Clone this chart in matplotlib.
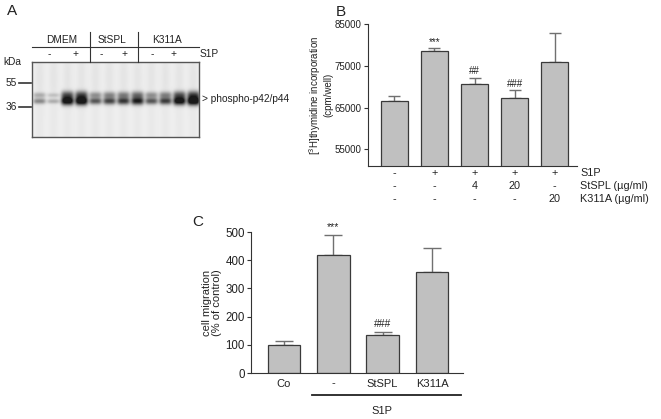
import matplotlib.pyplot as plt
import numpy as np
from matplotlib.lines import Line2D

plt.rcParams['font.family'] = ['Liberation Sans', 'DejaVu Sans']
plt.rcParams['font.size'] = 7

W, H = 661, 419

# panel B: [3H]thymidine incorporation
b_vals = [66500, 78600, 70700, 67300, 75900]
b_err = [1200, 600, 1450, 1950, 6850]
b_marks = ['', '***', '##', '###', '']
b_s1p = ['-', '+', '+', '+', '+']
b_stspl = ['-', '-', '4', '20', '-']
b_k311a = ['-', '-', '-', '-', '20']
b_rows = ['S1P', 'StSPL (\u00b5g/ml)', 'K311A (\u00b5g/ml)']

# panel C: cell migration
c_labels = ['Co', '-', 'StSPL', 'K311A']
c_vals = [100, 420, 133, 357]
c_err = [12, 70, 12, 85]
c_marks = ['', '***', '###', '']

# panel A: blot, relative band intensity per lane (2 lanes per condition)
lane_int = [0.45, 0.3, 0.92, 0.95, 0.62, 0.68, 0.72, 0.8, 0.62, 0.7, 0.9, 0.97]
blot_groups = ['DMEM', 'StSPL', 'K311A']
blot_s1p = ['-', '+', '-', '+', '-', '+']

bar_face = '#c0c0c0'
edge = '#3a3a3a'
err_col = '#707070'
txt = '#222222'


def fx(x):
    return x / W


def fy(y):
    return 1 - y / H


def axes_px(l, t, r, b):
    return fig.add_axes([fx(l), fy(b), (r - l) / W, (b - t) / H])


def hline(x0, x1, y, lw=1.0, c='#333333'):
    fig.add_artist(Line2D([fx(x0), fx(x1)], [fy(y), fy(y)], lw=lw, color=c))


def vline(x, y0, y1, lw=1.0, c='#333333'):
    fig.add_artist(Line2D([fx(x), fx(x)], [fy(y0), fy(y1)], lw=lw, color=c))


def ftext(x, y, s, **kw):
    kw.setdefault('ha', 'center')
    kw.setdefault('va', 'center')
    kw.setdefault('color', txt)
    fig.text(fx(x), fy(y), s, **kw)


def style(ax, size):
    for side in ['top', 'right']:
        ax.spines[side].set_visible(False)
    for side in ['left', 'bottom']:
        ax.spines[side].set_color('#333333')
        ax.spines[side].set_linewidth(0.8)
    ax.tick_params(axis='y', length=3, width=0.8, color='#333333', pad=1.5,
                   labelcolor=txt, labelsize=size)


fig = plt.figure(figsize=(W / 100, H / 100), dpi=100)

# ---------------- panel A ----------------
ftext(12, 11, 'A', fontsize=11)
axA = axes_px(32, 62, 199, 137)
nl = len(lane_int)
hpx, wpx = 75, 167
yy, xx = np.mgrid[0:hpx, 0:wpx]
img = np.full((hpx, wpx), 0.94)
lw_ = wpx / nl
for i, a in enumerate(lane_int):
    cx = (i + 0.5) * lw_
    gx = np.exp(-((xx - cx) / (lw_ * 0.45)) ** 4)
    sig = 1.5 + 2.6 * a
    up = np.exp(-((yy - 33.0 + a) / sig) ** 2)
    lo = np.exp(-((yy - 39.0) / sig) ** 2)
    core = np.exp(-((yy - 37) / (1.0 + 4.0 * a)) ** 2)
    img -= gx * (0.5 * a * up + 0.7 * a * lo + 0.45 * a * a * core)
    img -= 0.045 * np.exp(-((xx - cx) / (lw_ * 0.35)) ** 2) * (0.6 + 0.4 * np.exp(-((yy - 15) / 20) ** 2))
img = np.clip(img, 0.1, 1)
axA.imshow(img, cmap='gray', vmin=0, vmax=1, aspect='auto', interpolation='bilinear')
axA.set_xticks([])
axA.set_yticks([])
for s in axA.spines.values():
    s.set_color('#555555')
    s.set_linewidth(1.0)

hline(32, 199, 47, lw=0.8)
vline(90, 32, 62, lw=0.8)
vline(138, 32, 62, lw=0.8)
for xg, g in zip([62, 112, 167], blot_groups):
    ftext(xg, 40, g, fontsize=7.3)
for xs, s in zip([49, 75, 101, 124, 152, 173], blot_s1p):
    ftext(xs, 54, s, fontsize=7.3)
ftext(200, 54, 'S1P', ha='left', fontsize=7.3)
ftext(12, 62, 'kDa', fontsize=7.3)
ftext(17, 83, '55', ha='right', fontsize=7.3)
ftext(17, 107, '36', ha='right', fontsize=7.3)
hline(19, 31, 83, lw=1.2)
hline(19, 31, 107, lw=1.2)
ftext(202, 99, '> phospho-p42/p44', ha='left', fontsize=7.3)

# ---------------- panel B ----------------
ftext(341, 12, 'B', fontsize=11)
axB = axes_px(368, 24, 577, 166)
xb = np.arange(len(b_vals))
axB.bar(xb, b_vals, width=0.67, color=bar_face, edgecolor=edge, linewidth=0.9, zorder=2)
axB.errorbar(xb, b_vals, yerr=[np.zeros(len(b_err)), b_err], fmt='none',
             ecolor=err_col, elinewidth=1.0, capsize=4.6, capthick=1.0, zorder=1)
for i, m in enumerate(b_marks):
    if m:
        axB.annotate(m, (xb[i], b_vals[i] + b_err[i]), xytext=(0, 4.5),
                     textcoords='offset points', ha='center', va='center', fontsize=7,
                     color=txt)
axB.set_ylim(51000, 85000)
axB.set_xlim(-0.66, 4.56)
axB.set_yticks([55000, 65000, 75000, 85000])
axB.set_xticks([])
style(axB, 7)
axB.set_ylabel('[$^3$H]thymidine incorporation\n(cpm/well)', color=txt,
               labelpad=1, linespacing=1.1, fontsize=7)
rows = [b_s1p, b_stspl, b_k311a]
for ypx, vals, lab in zip([173, 186, 199], rows, b_rows):
    for i, v in enumerate(vals):
        xp = 368 + (xb[i] + 0.66) * 40.0
        ftext(xp, ypx, v, fontsize=7.8)
    ftext(580, ypx, lab, ha='left', fontsize=7.8)

# ---------------- panel C ----------------
ftext(198, 222, 'C', fontsize=11)
axC = axes_px(251, 232, 463, 373)
xc = np.arange(len(c_vals))
axC.bar(xc, c_vals, width=0.66, color=bar_face, edgecolor=edge, linewidth=0.9, zorder=2)
axC.errorbar(xc, c_vals, yerr=[np.zeros(len(c_err)), c_err], fmt='none',
             ecolor=err_col, elinewidth=1.0, capsize=6.2, capthick=1.0, zorder=1)
for i, m in enumerate(c_marks):
    if m:
        axC.annotate(m, (xc[i], c_vals[i] + c_err[i]), xytext=(0, 5.5),
                     textcoords='offset points', ha='center', va='center', fontsize=7.5,
                     color=txt)
axC.set_ylim(0, 500)
axC.set_xlim(-0.67, 3.63)
axC.set_yticks([0, 100, 200, 300, 400, 500])
axC.set_xticks(xc)
axC.set_xticklabels(c_labels)
style(axC, 8.3)
axC.tick_params(axis='x', length=0, pad=4, labelcolor=txt, labelsize=8)
axC.set_ylabel('cell migration\n(% of control)', color=txt, labelpad=2,
               linespacing=1.1, fontsize=8)
hline(312, 461, 395, lw=1.3, c='#222222')
ftext(382, 411, 'S1P', fontsize=8)

fig.savefig('out.png', dpi=100)
